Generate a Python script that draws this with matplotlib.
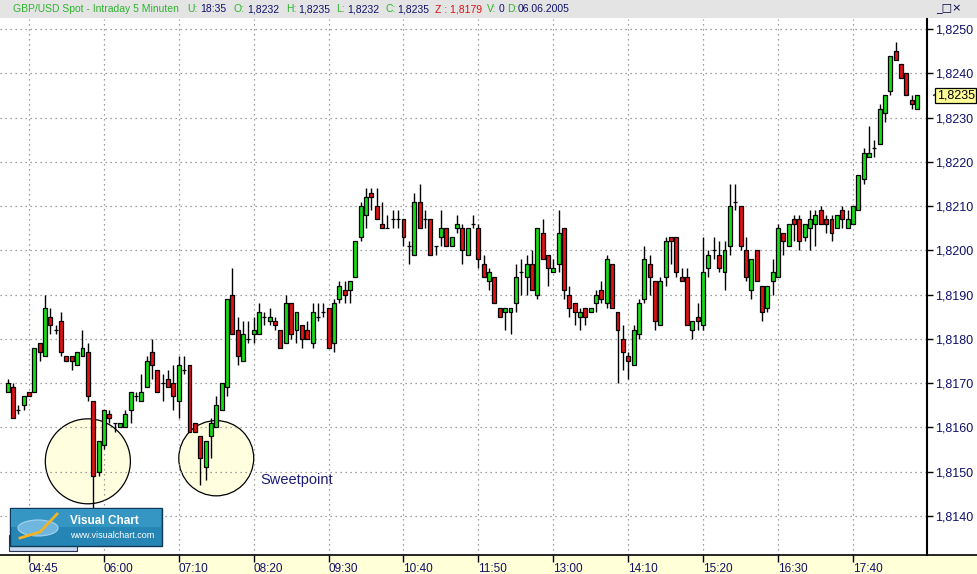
import numpy as np
import matplotlib.pyplot as plt
from matplotlib.patches import Rectangle, Ellipse
from matplotlib.lines import Line2D
from matplotlib.ticker import FuncFormatter

# GBP/USD 5-min candles, 06.06.2005
opens = [1.8168, 1.8169, 1.8164, 1.8165, 1.8168, 1.8168, 1.8179, 1.8176, 1.8185, 1.8182,
         1.8184, 1.8176, 1.8176, 1.8174, 1.8176, 1.8177, 1.8166, 1.8150, 1.8156, 1.8163,
         1.8161, 1.8160, 1.8160, 1.8164, 1.8167, 1.8166, 1.8169, 1.8177, 1.8173, 1.8170,
         1.8171, 1.8170, 1.8166, 1.8173, 1.8174, 1.8161, 1.8158, 1.8151, 1.8158, 1.8160,
         1.8164, 1.8169, 1.8190, 1.8182, 1.8175, 1.8180, 1.8181, 1.8181, 1.8185, 1.8184,
         1.8184, 1.8182, 1.8179, 1.8188, 1.8182, 1.8183, 1.8182, 1.8179, 1.8185, 1.8186,
         1.8187, 1.8179, 1.8189, 1.8191, 1.8191, 1.8194, 1.8203, 1.8208, 1.8213, 1.8210,
         1.8206, 1.8205, 1.8207, 1.8207, 1.8207, 1.8201, 1.8199, 1.8211, 1.8207, 1.8207,
         1.8201, 1.8203, 1.8205, 1.8201, 1.8205, 1.8205, 1.8199, 1.8206, 1.8205, 1.8197,
         1.8193, 1.8194, 1.8187, 1.8186, 1.8186, 1.8188, 1.8195, 1.8194, 1.8197, 1.8190,
         1.8204, 1.8199, 1.8195, 1.8197, 1.8205, 1.8190, 1.8188, 1.8185, 1.8187, 1.8186,
         1.8188, 1.8191, 1.8188, 1.8197, 1.8186, 1.8180, 1.8176, 1.8174, 1.8181, 1.8189,
         1.8197, 1.8193, 1.8183, 1.8194, 1.8203, 1.8203, 1.8194, 1.8194, 1.8182, 1.8185,
         1.8183, 1.8196, 1.8200, 1.8199, 1.8195, 1.8201, 1.8211, 1.8210, 1.8200, 1.8191,
         1.8200, 1.8192, 1.8187, 1.8193, 1.8194, 1.8204, 1.8201, 1.8207, 1.8207, 1.8203,
         1.8205, 1.8206, 1.8209, 1.8207, 1.8207, 1.8205, 1.8209, 1.8205, 1.8206, 1.8209,
         1.8216, 1.8221, 1.8223, 1.8224, 1.8231, 1.8236, 1.8245, 1.8242, 1.8240, 1.8234,
         1.8232]
highs = [1.8171, 1.8170, 1.8165, 1.8167, 1.8168, 1.8178, 1.8179, 1.8190, 1.8187, 1.8183,
         1.8186, 1.8176, 1.8176, 1.8177, 1.8182, 1.8179, 1.8166, 1.8157, 1.8164, 1.8164,
         1.8161, 1.8161, 1.8164, 1.8168, 1.8168, 1.8172, 1.8176, 1.8180, 1.8173, 1.8172,
         1.8173, 1.8174, 1.8176, 1.8176, 1.8174, 1.8161, 1.8158, 1.8157, 1.8162, 1.8167,
         1.8170, 1.8189, 1.8196, 1.8185, 1.8184, 1.8184, 1.8185, 1.8188, 1.8186, 1.8187,
         1.8185, 1.8182, 1.8190, 1.8188, 1.8186, 1.8183, 1.8184, 1.8188, 1.8188, 1.8188,
         1.8187, 1.8189, 1.8193, 1.8193, 1.8193, 1.8202, 1.8211, 1.8214, 1.8214, 1.8214,
         1.8211, 1.8208, 1.8209, 1.8209, 1.8207, 1.8202, 1.8213, 1.8215, 1.8209, 1.8207,
         1.8201, 1.8209, 1.8205, 1.8203, 1.8208, 1.8206, 1.8205, 1.8208, 1.8206, 1.8199,
         1.8196, 1.8194, 1.8187, 1.8187, 1.8187, 1.8197, 1.8198, 1.8199, 1.8200, 1.8205,
         1.8207, 1.8199, 1.8198, 1.8209, 1.8205, 1.8192, 1.8188, 1.8187, 1.8187, 1.8187,
         1.8191, 1.8193, 1.8199, 1.8197, 1.8186, 1.8183, 1.8177, 1.8183, 1.8189, 1.8201,
         1.8199, 1.8193, 1.8194, 1.8203, 1.8203, 1.8203, 1.8196, 1.8196, 1.8184, 1.8188,
         1.8203, 1.8200, 1.8203, 1.8202, 1.8202, 1.8215, 1.8215, 1.8210, 1.8203, 1.8198,
         1.8200, 1.8192, 1.8192, 1.8198, 1.8206, 1.8204, 1.8206, 1.8208, 1.8208, 1.8206,
         1.8209, 1.8209, 1.8210, 1.8208, 1.8208, 1.8208, 1.8210, 1.8209, 1.8210, 1.8217,
         1.8223, 1.8228, 1.8225, 1.8233, 1.8235, 1.8244, 1.8247, 1.8242, 1.8240, 1.8235,
         1.8235]
lows = [1.8168, 1.8162, 1.8163, 1.8164, 1.8167, 1.8168, 1.8175, 1.8176, 1.8181, 1.8181,
        1.8176, 1.8175, 1.8173, 1.8174, 1.8176, 1.8166, 1.8140, 1.8149, 1.8155, 1.8161,
        1.8159, 1.8160, 1.8160, 1.8161, 1.8166, 1.8166, 1.8169, 1.8171, 1.8168, 1.8166,
        1.8169, 1.8164, 1.8162, 1.8172, 1.8159, 1.8159, 1.8147, 1.8148, 1.8153, 1.8160,
        1.8164, 1.8167, 1.8181, 1.8174, 1.8175, 1.8179, 1.8179, 1.8181, 1.8183, 1.8183,
        1.8182, 1.8178, 1.8179, 1.8180, 1.8179, 1.8178, 1.8180, 1.8178, 1.8184, 1.8185,
        1.8178, 1.8177, 1.8188, 1.8188, 1.8188, 1.8194, 1.8202, 1.8205, 1.8209, 1.8207,
        1.8205, 1.8205, 1.8205, 1.8205, 1.8201, 1.8197, 1.8199, 1.8205, 1.8205, 1.8199,
        1.8199, 1.8201, 1.8201, 1.8201, 1.8204, 1.8197, 1.8199, 1.8205, 1.8196, 1.8194,
        1.8191, 1.8188, 1.8185, 1.8182, 1.8181, 1.8186, 1.8190, 1.8190, 1.8191, 1.8189,
        1.8198, 1.8192, 1.8195, 1.8195, 1.8189, 1.8185, 1.8183, 1.8182, 1.8183, 1.8186,
        1.8186, 1.8188, 1.8187, 1.8187, 1.8170, 1.8173, 1.8171, 1.8174, 1.8180, 1.8188,
        1.8190, 1.8182, 1.8183, 1.8192, 1.8197, 1.8194, 1.8193, 1.8183, 1.8180, 1.8182,
        1.8182, 1.8194, 1.8198, 1.8195, 1.8191, 1.8199, 1.8209, 1.8200, 1.8193, 1.8189,
        1.8193, 1.8184, 1.8186, 1.8190, 1.8194, 1.8199, 1.8201, 1.8202, 1.8200, 1.8202,
        1.8200, 1.8201, 1.8206, 1.8204, 1.8202, 1.8205, 1.8205, 1.8205, 1.8206, 1.8209,
        1.8215, 1.8221, 1.8221, 1.8224, 1.8229, 1.8235, 1.8243, 1.8239, 1.8235, 1.8232,
        1.8232]
closes = [1.8170, 1.8162, 1.8164, 1.8167, 1.8167, 1.8178, 1.8177, 1.8187, 1.8183, 1.8182,
          1.8177, 1.8175, 1.8175, 1.8177, 1.8178, 1.8167, 1.8149, 1.8157, 1.8164, 1.8162,
          1.8161, 1.8161, 1.8163, 1.8168, 1.8167, 1.8168, 1.8175, 1.8174, 1.8168, 1.8170,
          1.8169, 1.8167, 1.8174, 1.8173, 1.8159, 1.8159, 1.8153, 1.8157, 1.8161, 1.8165,
          1.8170, 1.8189, 1.8181, 1.8176, 1.8181, 1.8180, 1.8182, 1.8186, 1.8185, 1.8185,
          1.8183, 1.8178, 1.8188, 1.8181, 1.8186, 1.8180, 1.8180, 1.8186, 1.8185, 1.8186,
          1.8178, 1.8188, 1.8192, 1.8190, 1.8193, 1.8202, 1.8210, 1.8212, 1.8212, 1.8207,
          1.8205, 1.8205, 1.8207, 1.8207, 1.8203, 1.8201, 1.8211, 1.8205, 1.8207, 1.8199,
          1.8201, 1.8205, 1.8201, 1.8203, 1.8206, 1.8200, 1.8205, 1.8206, 1.8198, 1.8194,
          1.8195, 1.8188, 1.8185, 1.8187, 1.8187, 1.8194, 1.8195, 1.8197, 1.8191, 1.8205,
          1.8198, 1.8196, 1.8196, 1.8204, 1.8191, 1.8187, 1.8186, 1.8186, 1.8185, 1.8187,
          1.8190, 1.8189, 1.8198, 1.8187, 1.8182, 1.8177, 1.8175, 1.8182, 1.8188, 1.8198,
          1.8194, 1.8184, 1.8193, 1.8202, 1.8202, 1.8195, 1.8193, 1.8183, 1.8184, 1.8184,
          1.8195, 1.8199, 1.8200, 1.8196, 1.8200, 1.8210, 1.8211, 1.8201, 1.8194, 1.8198,
          1.8193, 1.8186, 1.8192, 1.8195, 1.8205, 1.8202, 1.8206, 1.8206, 1.8202, 1.8206,
          1.8207, 1.8208, 1.8206, 1.8206, 1.8204, 1.8208, 1.8207, 1.8207, 1.8210, 1.8217,
          1.8222, 1.8222, 1.8223, 1.8232, 1.8235, 1.8244, 1.8243, 1.8239, 1.8235, 1.8233,
          1.8235]

time_labels = ['04:45', '06:00', '07:10', '08:20', '09:30', '10:40',
               '11:50', '13:00', '14:10', '15:20', '16:30', '17:40']
price_ticks = [1.8140, 1.8150, 1.8160, 1.8170, 1.8180, 1.8190,
               1.8200, 1.8210, 1.8220, 1.8230, 1.8240, 1.8250]
last_price = 1.8235

GREEN = '#16dc16'
RED = '#e01212'
NAVY = '#10106a'

W, H = 978, 574


def fx(px):
    return px / W


def fy(py):
    return 1 - py / H


fig = plt.figure(figsize=(W / 100, H / 100), dpi=100)
fig.patch.set_facecolor('white')

# background bands (behind the axes)
fig.add_artist(Rectangle((0, 0), 1, fy(555), transform=fig.transFigure,
                         facecolor='#ffffd8', edgecolor='none', zorder=-1))
fig.add_artist(Rectangle((0, fy(18)), 1, 18 / H, transform=fig.transFigure,
                         facecolor='#e4e4e4', edgecolor='none', zorder=-1))

ax = fig.add_axes([0, fy(555), fx(927), (555 - 19) / H])
ax.set_facecolor('white')

o = np.array(opens)
c = np.array(closes)
x = np.arange(len(opens))
colors = [GREEN if cc > oo else RED for oo, cc in zip(o, c)]

# highlight circles around the two lows
ax.add_patch(Ellipse((15.0, 1.81523), 15.9, 0.00192, facecolor='#ffffe0',
                     edgecolor='black', linewidth=0.9, zorder=0.3))
ax.add_patch(Ellipse((39.0, 1.81530), 14.0, 0.00170, facecolor='#ffffe0',
                     edgecolor='black', linewidth=0.9, zorder=0.3))

ax.vlines(x, lows, highs, color='black', linewidth=1, zorder=2)
ax.bar(x, np.abs(c - o), bottom=np.minimum(o, c), width=0.74, color=colors,
       edgecolor='black', linewidth=0.9, zorder=3)

ax.text(47.2, 1.81481, 'Sweetpoint', color='#1c1c78', fontsize=10.5,
        family='Liberation Sans', ha='left', va='center', zorder=4)

ax.set_xlim(-1.42, 171.85)
ax.set_ylim(1.813113, 1.825226)

ax.set_yticks(price_ticks)
ax.yaxis.tick_right()
ax.yaxis.set_major_formatter(FuncFormatter(lambda v, p: f"{v:.4f}".replace('.', ',')))
ax.tick_params(axis='y', direction='out', length=4, width=1, pad=2,
               labelsize=9, labelcolor=NAVY)

tick_bars = np.arange(4, 4 + 14 * len(time_labels), 14)
ax.set_xticks(tick_bars)
ax.set_xticklabels(time_labels, ha='left')
ax.tick_params(axis='x', direction='out', length=5, width=1, pad=1,
               labelsize=8.5, labelcolor=NAVY)
for lab in ax.get_xticklabels() + ax.get_yticklabels():
    lab.set_family('Liberation Sans')

ax.grid(True, color='#808080', linestyle=(0, (1, 3)), linewidth=0.9)
ax.set_axisbelow(True)

for side in ['left', 'top']:
    ax.spines[side].set_visible(False)
ax.spines['right'].set_linewidth(1.5)
ax.spines['bottom'].set_linewidth(1.2)
fig.add_artist(Line2D([fx(927), 1], [fy(555), fy(555)], transform=fig.transFigure,
                      color='black', linewidth=1.2))

# current price marker
trans = ax.get_yaxis_transform()
ax.text(1.0045, last_price, '<', transform=trans, fontsize=6, color='black',
        ha='left', va='center', clip_on=False)
ax.text(1.0105, last_price, '1,8235', transform=trans, fontsize=9,
        family='Liberation Sans', color='black', ha='left', va='center', clip_on=False,
        bbox=dict(boxstyle='square,pad=0.12', facecolor='#ffff99', edgecolor='black',
                  linewidth=0.9))

# header line
hdr = [('GBP/USD Spot - Intraday 5 Minuten', 13, '#2db52d'),
       ('U:', 187, '#2db52d'), ('18:35', 200, NAVY),
       ('O:', 234, '#2db52d'), ('1,8232', 247, NAVY),
       ('H:', 286, '#2db52d'), ('1,8235', 298, NAVY),
       ('L:', 336, '#2db52d'), ('1,8232', 347, NAVY),
       ('C:', 386, '#2db52d'), ('1,8235', 397, NAVY),
       ('Z : 1,8179', 435, '#dd1111'),
       ('V:', 487, '#2db52d'), ('0', 499, NAVY),
       ('D:', 507, '#2db52d'), ('06.06.2005', 518, NAVY)]
for txt, px, col in hdr:
    fig.text(fx(px), fy(9), txt, color=col, fontsize=7.5, family='Liberation Sans',
             ha='left', va='center')
fig.text(fx(936), fy(8), '_\u25a1\u00d7', color='#000040', fontsize=8,
         family='DejaVu Sans', ha='left', va='center')

# Visual Chart logo
fig.add_artist(Rectangle((fx(9), fy(551)), 68 / W, 16 / H, transform=fig.transFigure,
                         facecolor='#c6d9f0', edgecolor='#303050', linewidth=0.8, zorder=5))
fig.add_artist(Rectangle((fx(10), fy(546)), 152 / W, 38 / H, transform=fig.transFigure,
                         facecolor='#2585b4', edgecolor='#0e3a58', linewidth=1, zorder=5))
fig.add_artist(Rectangle((fx(11), fy(527)), 150 / W, 18 / H, transform=fig.transFigure,
                         facecolor='#3596c4', edgecolor='none', zorder=5))
fig.add_artist(Ellipse((fx(38), fy(528)), 40 / W, 16 / H, transform=fig.transFigure,
                       facecolor='#6fb7de', edgecolor='#a8d4ee', linewidth=0.8, zorder=6))
fig.add_artist(Line2D([fx(20), fx(40), fx(57)], [fy(538), fy(532), fy(514)],
                      transform=fig.transFigure, color='#f2b324', linewidth=2, zorder=7))
t1 = fig.text(fx(70), fy(521), 'Visual Chart', color='white', fontsize=8.5,
              fontweight='bold', family='Liberation Sans', ha='left', va='center')
t2 = fig.text(fx(70), fy(535), 'www.visualchart.com', color='white', fontsize=6.5,
              family='Liberation Sans', ha='left', va='center')
t1.set_zorder(8)
t2.set_zorder(8)

fig.savefig('out.png', dpi=100, facecolor=fig.get_facecolor())
